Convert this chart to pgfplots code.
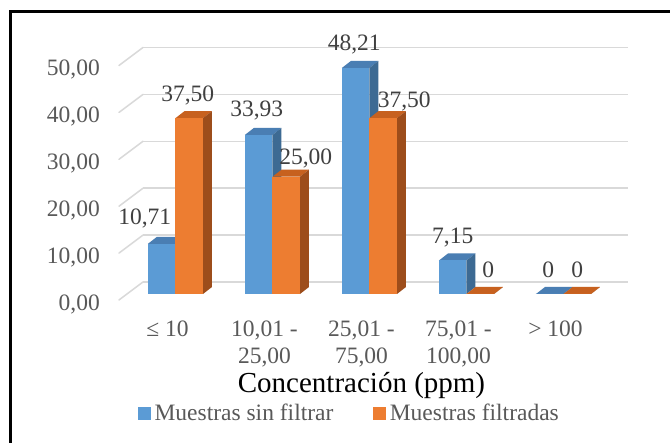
\documentclass[border=0pt]{standalone}
\usepackage{fontspec}
\setmainfont{Liberation Serif}
\usepackage{pgfplots}
\usepackage{pgfplotstable}
\pgfplotsset{compat=1.18}

\definecolor{bfront}{HTML}{5B9BD5}
\definecolor{btop}{HTML}{4A7EB3}
\definecolor{bside}{HTML}{3D6A93}
\definecolor{ofront}{HTML}{ED7D31}
\definecolor{otop}{HTML}{C7611F}
\definecolor{oside}{HTML}{9D4D1B}
\definecolor{gridc}{HTML}{D9D9D9}
\definecolor{tickgray}{HTML}{595959}
\definecolor{labgray}{HTML}{404040}

% an empty mark: the bars are drawn by the scatter code
\pgfdeclareplotmark{none3d}{}
\newdimen\barh
\newdimen\bfy
\newdimen\bby

% dx, dy: offset of each value label from the middle of the bar's front top edge (pt)
\pgfplotstableread{
cat val   dx    dy
0   10.71 -17   25
1   33.93 -2    24
2   48.21 -1.5  23
3   7.15  0     23
4   0     -1.5  24
}\sinfiltrar
\pgfplotstableread{
cat val   dx    dy
0   37.50 -1.5  23
1   25.00 19.5  18
2   37.50 21    17
3   0     8     24
4   0     0     24
}\filtradas

% value label: two decimals with a comma, a plain 0 for empty classes
\newcommand\vallabel[1]{%
  \pgfmathfloatparsenumber{#1}\pgfmathfloattofixed{\pgfmathresult}\let\vl\pgfmathresult
  \ifdim\vl pt=0pt 0\else\pgfmathprintnumber[fixed,fixed zerofill,precision=2,use comma,assume math mode=true]{\vl}\fi}

\pgfplotsset{
  % #1 front, #2 top, #3 side colour; #4/#5 left/right edge of the front face,
  % #6/#7 the same edges at the back (pt, from the data point)
  bar3d/.style n args={7}{
    only marks, scatter, mark=none3d, forget plot,
    point meta=explicit, point meta min=0, point meta max=1000,
    scatter/@pre marker code/.code={%
      \barh=\pgfplotspointmetatransformed pt\relax
      \barh=4.69\barh
      \bfy=-12pt \advance\bfy by -\barh
      \bby=-5pt \advance\bby by -\barh
      \pgfpathmoveto{\pgfqpoint{#4}{-12pt}}%
      \pgfpathlineto{\pgfqpoint{#5}{-12pt}}%
      \pgfpathlineto{\pgfqpoint{#7}{-5pt}}%
      \pgfpathlineto{\pgfqpoint{#6}{-5pt}}%
      \pgfpathclose
      \pgfsetfillcolor{#2}\pgfusepath{fill}%
      \pgfpathmoveto{\pgfqpoint{#5}{-12pt}}%
      \pgfpathlineto{\pgfqpoint{#7}{-5pt}}%
      \pgfpathlineto{\pgfqpoint{#7}{\bby}}%
      \pgfpathlineto{\pgfqpoint{#5}{\bfy}}%
      \pgfpathclose
      \pgfsetfillcolor{#3}\pgfusepath{fill}%
      \pgfpathrectanglecorners{\pgfqpoint{#4}{-12pt}}{\pgfqpoint{#5}{\bfy}}%
      \pgfsetfillcolor{#1}\pgfusepath{fill}%
    },
    scatter/@post marker code/.code={},
  },
  % value labels
  vlabels/.style={
    only marks, mark=none, forget plot,
    point meta=explicit,
    nodes near coords={\vallabel{\pgfplotspointmeta}},
    nodes near coords style={anchor=center, inner sep=0pt, text=labgray,
      font=\fontsize{23.5}{27}\selectfont},
  },
}

\begin{document}
\begin{tikzpicture}
\useasboundingbox (0,0) rectangle (670pt,443pt);
\fill[white] (0,0) rectangle (670pt,443pt);
\begin{axis}[
  at={(143pt,161pt)}, anchor=south west,
  width=485pt, height=234.5pt, scale only axis,
  xmin=-0.5, xmax=4.5, ymin=0, ymax=50,
  clip=false,
  axis line style={draw=none},
  major tick length=0pt,
  ytick={0,10,20,30,40,50},
  ymajorgrids, major grid style={gridc, line width=1.5pt},
  xtick={0,1,2,3,4},
  xticklabels={{≤ 10},{10,01 -\\25,00},{25,01 -\\75,00},{75,01 -\\100,00},{> 100}},
  tick label style={font=\fontsize{23.5}{27}\selectfont, text=tickgray},
  xticklabel style={align=center, anchor=north, inner sep=0pt, xshift=-24pt, yshift=-39pt},
  yticklabel style={anchor=east, inner sep=0pt, xshift=-43pt, yshift=-22pt},
  y tick label style={/pgf/number format/fixed, /pgf/number format/fixed zerofill,
    /pgf/number format/precision=2, /pgf/number format/use comma,
    /pgf/number format/assume math mode=true},
  scaled y ticks=false,
  xlabel={Concentración (ppm)},
  xlabel style={at={(axis description cs:0.5,0)}, anchor=base, inner sep=0pt,
    xshift=-24pt, yshift=-111pt, font=\fontsize{29}{33}\selectfont, text=black},
  legend columns=2,
  legend style={at={(axis description cs:-0.0103,-0.560)}, anchor=west,
    draw=none, fill=none, inner sep=0pt, nodes={inner sep=0pt},
    font=\fontsize{23.5}{27}\selectfont, text=tickgray,
    /tikz/every odd column/.append style={column sep=4pt},
    /tikz/every even column/.append style={column sep=40pt}},
]
% floor and side parts of the gridlines
\pgfplotsinvokeforeach{0,10,20,30,40,50}{
  \draw[gridc, line width=1.5pt, line cap=round] (axis cs:-0.5,#1) -- ++(-24pt,-18pt);
}
% bars (front plane 16pt left of and 12pt below the back wall)
\addplot[bar3d={bfront}{btop}{bside}{-43.5pt}{-16pt}{-34.5pt}{-7pt}]
  table[x=cat, y=val, meta=val] {\sinfiltrar};
\addplot[bar3d={ofront}{otop}{oside}{-16pt}{11.5pt}{-7pt}{20.5pt}]
  table[x=cat, y=val, meta=val] {\filtradas};
% value labels above the front faces (97pt per category, 4.69pt per unit)
\addplot[vlabels] table[x expr=\thisrow{cat}+(\thisrow{dx}-29.75)/97,
  y expr=\thisrow{val}+(\thisrow{dy}-12)/4.69, meta=val] {\sinfiltrar};
\addplot[vlabels] table[x expr=\thisrow{cat}+(\thisrow{dx}-2.25)/97,
  y expr=\thisrow{val}+(\thisrow{dy}-12)/4.69, meta=val] {\filtradas};
\addlegendimage{legend image code/.code={\fill[bfront] (0pt,-6pt) rectangle (12pt,6pt);}}
\addlegendentry{Muestras sin filtrar}
\addlegendimage{legend image code/.code={\fill[ofront] (0pt,-6pt) rectangle (12pt,6pt);}}
\addlegendentry{Muestras filtradas}
\end{axis}
% outer frame
\draw[line width=3.6pt, line join=miter] (10.3pt,-5pt) -- (10.3pt,431.3pt) -- (680pt,431.3pt);
\end{tikzpicture}
\end{document}
